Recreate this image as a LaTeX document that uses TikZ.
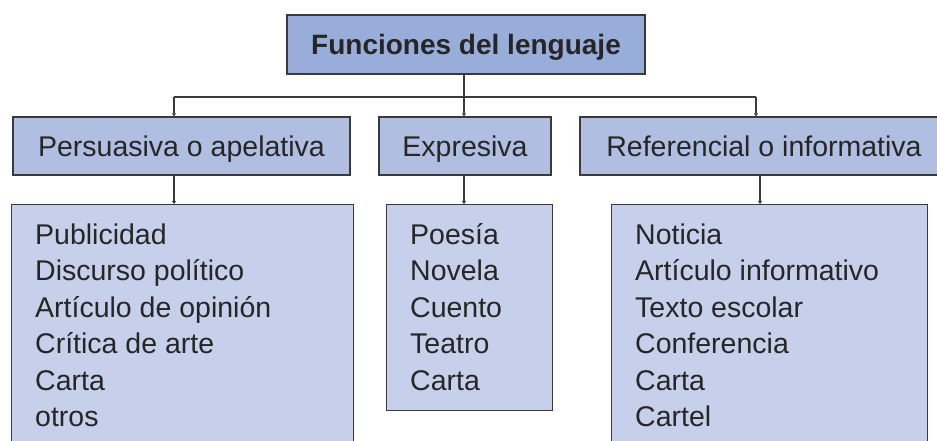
\documentclass[tikz,border=0pt]{standalone}
\usepackage{fontspec}
\setmainfont{Liberation Sans}
\usetikzlibrary{arrows.meta}
\definecolor{cTop}{HTML}{98ADDA}
\definecolor{cMid}{HTML}{AFBEE1}
\definecolor{cLow}{HTML}{C6D0EA}
\definecolor{cLine}{HTML}{3A3A3A}
\definecolor{cText}{HTML}{262626}
\tikzset{
  x=1pt, y=-1pt,
  boxbase/.style={draw=cLine, line width=1.4pt, inner sep=0pt, text=cText,
    font=\fontsize{28.5}{34}\selectfont, text height=20.5pt, text depth=0pt},
  topbox/.style={boxbase, fill=cTop, font=\fontsize{28}{34}\selectfont\bfseries},
  midbox/.style={boxbase, fill=cMid},
  lowbox/.style={draw=cLine, line width=1.4pt, fill=cLow},
  item/.style={anchor=base west, inner sep=0pt, text=cText, font=\fontsize{28.5}{34}\selectfont},
  conn/.style={draw=cLine, line width=1.3pt},
  arr/.style={conn, -{Triangle[length=3pt,width=4pt]}}
}
\begin{document}
\begin{tikzpicture}
\useasboundingbox (0,0) rectangle (937,440);
\clip (0,0) rectangle (937,440);
% top
\node[topbox, minimum width=358pt, minimum height=59pt] (top) at (466,44.5) {Funciones del lenguaje};
% level 2
\node[midbox, minimum width=337pt, minimum height=58pt] (pers) at (181.5,146) {Persuasiva o apelativa};
\node[midbox, minimum width=172pt, minimum height=58pt] (expr) at (465,146) {Expresiva};
\node[midbox, minimum width=365pt, minimum height=58pt] (refe) at (762.5,146) {};
\node[boxbase, draw=none, fill=none] (refet) at (764,146) {Referencial o informativa};
% level 3
\node[lowbox, anchor=north west, minimum width=342pt, minimum height=260pt] (persL) at (11,204) {};
\node[lowbox, anchor=north west, minimum width=166pt, minimum height=206pt] (exprL) at (386,204) {};
\node[lowbox, anchor=north west, minimum width=316pt, minimum height=260pt] (refeL) at (611,204) {};
% items
\foreach \t [count=\i] in {Publicidad, Discurso político, Artículo de opinión, Crítica de arte, Carta, otros}
  \node[item] (pi\i) at (35,{244+36.5*(\i-1)}) {\t};
\foreach \t [count=\i] in {Poesía, Novela, Cuento, Teatro, Carta}
  \node[item] (ei\i) at (410,{244+36.5*(\i-1)}) {\t};
\foreach \t [count=\i] in {Noticia, Artículo informativo, Texto escolar, Conferencia, Carta, Cartel}
  \node[item] (ri\i) at (635,{244+36.5*(\i-1)}) {\t};
% connectors
\coordinate (jT) at (464,97);
\coordinate (jL) at (174,97);
\coordinate (jR) at (756,97);
\draw[conn] (top.south -| jT) -- (jT);
\draw[conn] (jL) -- (jR);
\draw[arr] (jL) -- (jL |- pers.north);
\draw[arr] (jT) -- (jT |- expr.north);
\draw[arr] (jR) -- (jR |- refe.north);
\coordinate (dL) at (174,175);
\coordinate (dM) at (464,175);
\coordinate (dR) at (760,175);
\draw[arr] (dL) -- (dL |- persL.north);
\draw[arr] (dM) -- (dM |- exprL.north);
\draw[arr] (dR) -- (dR |- refeL.north);
\end{tikzpicture}
\end{document}
